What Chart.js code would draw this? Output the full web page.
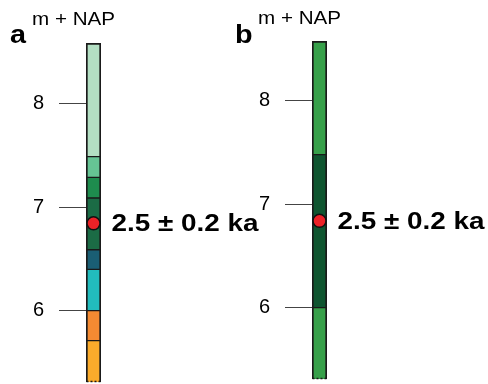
<!DOCTYPE html>
<html>
<head>
<meta charset="utf-8">
<script src="https://cdn.jsdelivr.net/npm/chart.js@4"></script>
<style>
  body { margin: 0; background: #fff; }
  #wrap { position: relative; width: 488px; height: 384px; }
  #wrap canvas { position: absolute; left: 0; top: 0; }
</style>
</head>
<body>
<div id="wrap">
  <canvas id="coreA" width="488" height="384"></canvas>
  <canvas id="coreB" width="488" height="384"></canvas>
</div>
<script>
'use strict'

// depth ticks (m + NAP)
const yTicks = [6, 7, 8];

// core a: unit boundaries from bottom to top, and colours of the units between them
const boundsA = [5.31, 5.71, 6.0, 6.40, 6.59, 7.09, 7.29, 7.49, 8.59];
const colorsA = ['#fbab2b', '#f48a32', '#22bcbd', '#1a5e74', '#1b6b45', '#1e8c4e', '#66c494', '#b3dfc3'];

// core b
const boundsB = [5.31, 6.0, 7.48, 8.58];
const colorsB = ['#37a04a', '#0f5530', '#37a04a'];

// dated sample
const ageLabel = '2.5 ± 0.2 ka';
const sampleA = [6.845];
const sampleB = [6.84];

const FONT = '"Liberation Sans", Arial, sans-serif';

function segments(bounds, colors) {
  return colors.map((c, i) => ({
    type: 'bar',
    data: [[bounds[i], bounds[i + 1]]],
    backgroundColor: c,
    borderColor: '#1a1a1a',
    borderWidth: { left: 2, right: 2, top: i === colors.length - 1 ? 2 : 1, bottom: i === 0 ? 0 : 1 },
    borderSkipped: false,
    barThickness: 15
  }));
}

// text in the reference is a bit wider than the font, so stretch it
function wideText(ctx, text, x, y, sx) {
  ctx.save();
  ctx.translate(x, y);
  ctx.scale(sx, 1);
  ctx.fillText(text, 0, 0);
  ctx.restore();
}

// draws panel letter, axis title, the age label and the dotted base of the core
const coreText = {
  id: 'coreText',
  afterDatasetsDraw(chart, args, o) {
    const ctx = chart.ctx;
    const nSeg = chart.data.datasets.length - 1;
    const bottomBar = chart.getDatasetMeta(0).data[0];
    const pt = chart.getDatasetMeta(nSeg).data[0];
    ctx.save();
    // dotted bottom
    ctx.strokeStyle = '#1a1a1a';
    ctx.lineWidth = 1.5;
    ctx.setLineDash([2, 2]);
    ctx.beginPath();
    ctx.moveTo(bottomBar.x - 7, bottomBar.base - 0.5);
    ctx.lineTo(bottomBar.x + 7, bottomBar.base - 0.5);
    ctx.stroke();
    ctx.setLineDash([]);

    ctx.fillStyle = '#000';
    ctx.textBaseline = 'alphabetic';
    ctx.textAlign = 'left';
    ctx.font = 'bold 25px ' + FONT;
    wideText(ctx, o.letter, o.letterX, 43, 1.15);
    ctx.font = '18px ' + FONT;
    wideText(ctx, 'm + NAP', o.titleX, o.titleY, 83 / ctx.measureText('m + NAP').width);
    ctx.font = 'bold 23px ' + FONT;
    wideText(ctx, ageLabel, pt.x + 18, pt.y + 8, 147 / ctx.measureText(ageLabel).width);
    ctx.restore();
  }
};

function makeCore(id, bounds, colors, sample, pad, letter, letterX, titleX, titleY) {
  const datasets = segments(bounds, colors);
  datasets.push({
    type: 'line',
    data: sample,
    order: -1,
    showLine: false,
    pointRadius: 6.5,
    pointBackgroundColor: '#ec2227',
    pointBorderColor: '#111',
    pointBorderWidth: 1.5
  });
  return new Chart(document.getElementById(id), {
    type: 'bar',
    data: { labels: [letter], datasets: datasets },
    options: {
      responsive: false,
      animation: false,
      devicePixelRatio: 1,
      layout: { padding: pad, autoPadding: false },
      plugins: {
        legend: { display: false },
        tooltip: { enabled: false },
        coreText: { letter: letter, letterX: letterX, titleX: titleX, titleY: titleY }
      },
      scales: {
        x: { display: false, stacked: true },
        y: {
          min: bounds[0],
          max: bounds[bounds.length - 1],
          afterBuildTicks: ax => { ax.ticks = yTicks.map(v => ({ value: v })); },
          afterFit: ax => { ax.width = 53; ax.paddingTop = 0; ax.paddingBottom = 0; },
          ticks: { color: '#000', font: { family: FONT, size: 20 }, padding: 15 },
          grid: { drawOnChartArea: false, tickLength: 27, color: '#444', lineWidth: 1 },
          border: { display: false }
        }
      }
    },
    plugins: [coreText]
  });
}

makeCore('coreA', boundsA, colorsA, sampleA,
  { left: 33, right: 387, top: 43, bottom: 2 }, 'a', 10, 32, 25);
makeCore('coreB', boundsB, colorsB, sampleB,
  { left: 259, right: 161, top: 41, bottom: 5 }, 'b', 235, 258, 23.5);
</script>
</body>
</html>
